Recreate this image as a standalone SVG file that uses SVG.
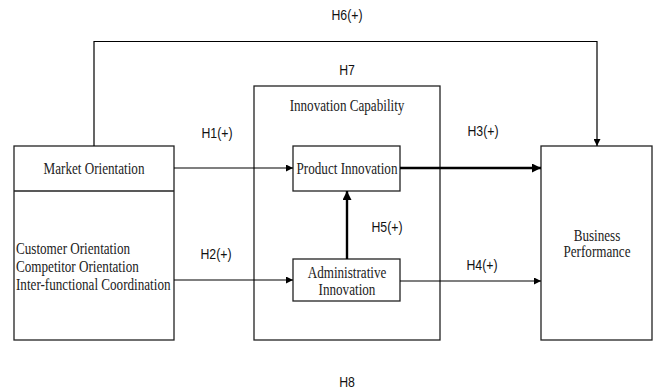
<svg xmlns="http://www.w3.org/2000/svg" width="654" height="392" viewBox="0 0 654 392">
<style>
.box{fill:#fff;stroke:#222;stroke-width:1.3}
.ln{fill:none;stroke:#000;stroke-width:1.2}
.thick{fill:none;stroke:#000;stroke-width:2.4}
.t{font-family:"Liberation Serif","Times New Roman",serif;font-size:16px;fill:#222}
.h{font-family:"Liberation Sans",Arial,sans-serif;font-size:15px;fill:#111}
.c{text-anchor:middle}
</style>
<defs>
<marker id="a" viewBox="0 0 10 10" refX="10" refY="5" markerWidth="8" markerHeight="7" markerUnits="userSpaceOnUse" orient="auto"><path d="M0,0L10,5L0,10z" fill="#000"/></marker>
<marker id="b" viewBox="0 0 10 10" refX="10" refY="5" markerWidth="12" markerHeight="9" markerUnits="userSpaceOnUse" orient="auto"><path d="M0,0L10,5L0,10z" fill="#000"/></marker>
</defs>
<rect width="654" height="392" fill="#fff"/>
<g id="capability">
<rect class="box" x="254" y="86" width="186" height="254"/>
<text class="t c" transform="translate(347,111) scale(0.82,1)">Innovation Capability</text>
</g>
<g id="market">
<rect class="box" x="14" y="146" width="160" height="194"/>
<line class="box" x1="14" y1="191" x2="174" y2="191"/>
<text class="t c" transform="translate(94,173.5) scale(0.82,1)">Market Orientation</text>
<text class="t" transform="translate(16,253.5) scale(0.82,1)">Customer Orientation</text>
<text class="t" transform="translate(16,271.5) scale(0.82,1)">Competitor Orientation</text>
<text class="t" transform="translate(16,289.5) scale(0.82,1)">Inter-functional Coordination</text>
</g>
<g id="product">
<rect class="box" x="293" y="146" width="107" height="45"/>
<text class="t c" transform="translate(347,173.5) scale(0.82,1)">Product Innovation</text>
</g>
<g id="admin">
<rect class="box" x="293" y="259" width="107" height="42"/>
<text class="t c" transform="translate(347,277.5) scale(0.82,1)">Administrative</text>
<text class="t c" transform="translate(347,294.5) scale(0.82,1)">Innovation</text>
</g>
<g id="business">
<rect class="box" x="541" y="146" width="111" height="194"/>
<text class="t c" transform="translate(597,240.5) scale(0.82,1)">Business</text>
<text class="t c" transform="translate(597,256.5) scale(0.82,1)">Performance</text>
</g>
<g id="connectors">
<path class="ln" d="M94,146V41.5H597V146" marker-end="url(#a)"/>
<line class="ln" x1="174" y1="168" x2="293" y2="168" marker-end="url(#a)"/>
<line class="ln" x1="174" y1="280" x2="293" y2="280" marker-end="url(#a)"/>
<line class="thick" x1="400" y1="168" x2="541" y2="168" marker-end="url(#b)"/>
<line class="ln" x1="400" y1="281" x2="541" y2="281" marker-end="url(#a)"/>
<line class="thick" x1="347" y1="259" x2="347" y2="191" marker-end="url(#b)"/>
</g>
<g id="labels">
<text class="h c" transform="translate(347,20.4) scale(0.82,1)">H6(+)</text>
<text class="h c" transform="translate(347,75.4) scale(0.82,1)">H7</text>
<text class="h c" transform="translate(217,138.4) scale(0.82,1)">H1(+)</text>
<text class="h c" transform="translate(483,136.4) scale(0.82,1)">H3(+)</text>
<text class="h c" transform="translate(387,232.4) scale(0.82,1)">H5(+)</text>
<text class="h c" transform="translate(216,259.4) scale(0.82,1)">H2(+)</text>
<text class="h c" transform="translate(482,270.4) scale(0.82,1)">H4(+)</text>
<text class="h c" transform="translate(347,387.4) scale(0.82,1)">H8</text>
</g>
</svg>
